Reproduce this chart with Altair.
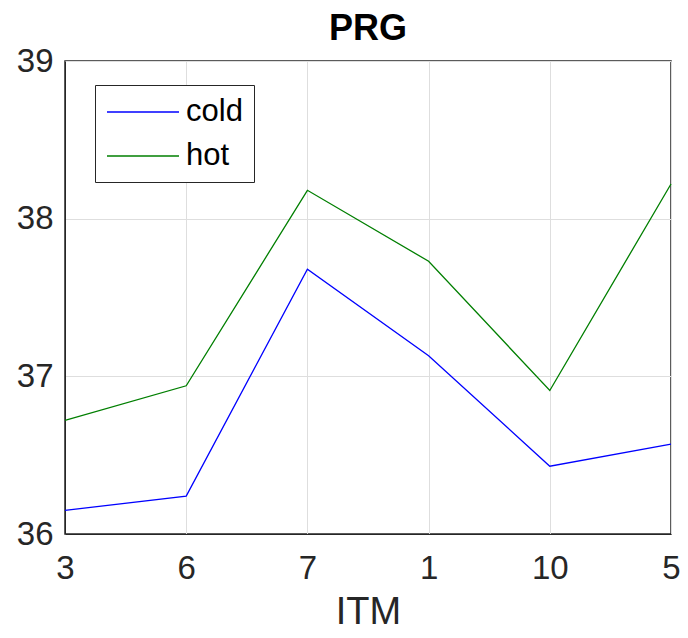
import altair as alt
import pandas as pd

categories = ["3", "6", "7", "1", "10", "5"]
cold = [36.15, 36.24, 37.68, 37.13, 36.43, 36.57]
hot = [36.72, 36.94, 38.18, 37.73, 36.91, 38.22]

rows = []
for i, c in enumerate(categories):
    rows.append({"ITM": c, "order": i, "value": cold[i], "series": "cold"})
    rows.append({"ITM": c, "order": i, "value": hot[i], "series": "hot"})
df = pd.DataFrame(rows)

FONT = "Liberation Sans"

chart = alt.Chart(df).mark_line(strokeWidth=1.3).encode(
    x=alt.X("ITM:N", sort=categories,
            scale=alt.Scale(type="point", padding=0),
            axis=alt.Axis(title="ITM", labelAngle=0, labelFontSize=33, titleFontSize=38,
                          titleFontWeight="normal", labelColor="#262626", titleColor="#262626",
                          grid=True, gridColor="#dedede", domainColor="#262626",
                          ticks=False, labelPadding=18, titlePadding=8,
                          labelFont=FONT, titleFont=FONT)),
    y=alt.Y("value:Q", scale=alt.Scale(domain=[36, 39], nice=False, zero=False),
            axis=alt.Axis(title=None, values=[36, 37, 38, 39], labelFontSize=33,
                          labelColor="#262626", grid=True, gridColor="#dedede",
                          domainColor="#262626", ticks=False, labelPadding=12,
                          labelFont=FONT)),
    color=alt.Color("series:N",
                    scale=alt.Scale(domain=["cold", "hot"], range=["#0000ff", "#007f00"]),
                    legend=alt.Legend(title=None, orient="none", legendX=30, legendY=24,
                                      symbolType="M-1,0H3.8", symbolSize=900,
                                      symbolStrokeWidth=1.5,
                                      labelFontSize=31, labelFont=FONT, labelColor="#000000",
                                      strokeColor="#262626", fillColor="white",
                                      padding=11, rowPadding=13, labelOffset=48,
                                      cornerRadius=0)),
    order="order:Q",
).properties(
    width=606, height=473,
    title=alt.TitleParams("PRG", fontSize=36, font=FONT, fontWeight="bold", color="#000000",
                          offset=-3),
    autosize=alt.AutoSizeParams(type="none"),
    padding={"left": 57, "top": 53, "right": 9, "bottom": 96},
).configure_view(stroke="#262626", strokeWidth=1.5)

chart.save("out.html", embed_options={"renderer": "svg", "actions": False})
